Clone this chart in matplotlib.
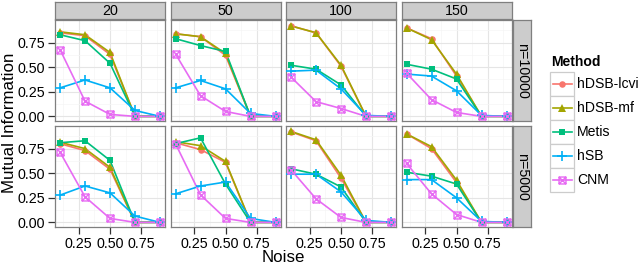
import matplotlib
matplotlib.use("Agg")
import matplotlib.pyplot as plt
from matplotlib.lines import Line2D
from matplotlib.patches import Rectangle
from matplotlib.path import Path

plt.rcParams["font.family"] = ["Liberation Sans", "DejaVu Sans"]

noise = [0.1, 0.3, 0.5, 0.7, 0.9]
ks = ["20", "50", "100", "150"]
sizes = ["n=10000", "n=5000"]
methods = ["hDSB-lcvi", "hDSB-mf", "Metis", "hSB", "CNM"]

# one row per k (20, 50, 100, 150), one value per noise level
lcvi_10000 = [[0.85, 0.82, 0.63, 0.0, 0.0],
              [0.84, 0.81, 0.62, 0.0, 0.0],
              [0.92, 0.85, 0.51, 0.0, 0.0],
              [0.90, 0.79, 0.41, 0.0, 0.0]]
mf_10000 = [[0.86, 0.83, 0.65, 0.0, 0.0],
            [0.84, 0.81, 0.64, 0.0, 0.0],
            [0.92, 0.85, 0.52, 0.0, 0.0],
            [0.90, 0.78, 0.43, 0.0, 0.0]]
metis_10000 = [[0.83, 0.77, 0.54, 0.0, 0.0],
               [0.79, 0.72, 0.66, 0.0, 0.0],
               [0.52, 0.48, 0.32, 0.0, 0.0],
               [0.53, 0.48, 0.38, 0.0, 0.0]]
hsb_10000 = [[0.29, 0.37, 0.29, 0.06, 0.0],
             [0.29, 0.365, 0.28, 0.03, 0.0],
             [0.46, 0.47, 0.28, 0.01, 0.0],
             [0.43, 0.41, 0.26, 0.01, 0.0]]
cnm_10000 = [[0.68, 0.155, 0.02, 0.0, 0.0],
             [0.635, 0.21, 0.05, 0.0, 0.0],
             [0.40, 0.15, 0.08, 0.0, 0.0],
             [0.44, 0.17, 0.04, 0.0, 0.0]]

lcvi_5000 = [[0.80, 0.73, 0.54, 0.0, 0.0],
             [0.81, 0.74, 0.61, 0.0, 0.0],
             [0.92, 0.83, 0.45, 0.0, 0.0],
             [0.90, 0.75, 0.405, 0.0, 0.0]]
mf_5000 = [[0.815, 0.75, 0.56, 0.0, 0.0],
           [0.82, 0.78, 0.62, 0.0, 0.0],
           [0.925, 0.84, 0.48, 0.0, 0.0],
           [0.90, 0.77, 0.43, 0.0, 0.0]]
metis_5000 = [[0.81, 0.83, 0.63, 0.0, 0.0],
              [0.80, 0.86, 0.39, 0.0, 0.0],
              [0.545, 0.49, 0.36, 0.0, 0.0],
              [0.51, 0.47, 0.39, 0.0, 0.0]]
hsb_5000 = [[0.277, 0.37, 0.30, 0.064, 0.0],
            [0.29, 0.37, 0.41, 0.04, 0.0],
            [0.49, 0.49, 0.31, 0.02, 0.0],
            [0.435, 0.435, 0.25, 0.01, 0.0]]
cnm_5000 = [[0.715, 0.26, 0.04, 0.0, 0.0],
            [0.80, 0.28, 0.04, 0.0, 0.0],
            [0.535, 0.24, 0.05, 0.0, 0.0],
            [0.60, 0.29, 0.08, 0.0, 0.0]]

series = {
    "n=10000": [lcvi_10000, mf_10000, metis_10000, hsb_10000, cnm_10000],
    "n=5000": [lcvi_5000, mf_5000, metis_5000, hsb_5000, cnm_5000],
}

colors = ["#F8766D", "#A3A500", "#00BF7D", "#00B0F6", "#E76BF3"]

# square with a cross inside (ggplot shape 7)
sq_cross = Path(
    [(-1, -1), (1, -1), (1, 1), (-1, 1), (-1, -1), (-1, -1), (1, 1), (-1, 1), (1, -1)],
    [Path.MOVETO, Path.LINETO, Path.LINETO, Path.LINETO, Path.CLOSEPOLY,
     Path.MOVETO, Path.LINETO, Path.MOVETO, Path.LINETO],
)
styles = [
    dict(marker="o", ms=4.7, mew=0.0),
    dict(marker="^", ms=5.2, mew=0.0),
    dict(marker="s", ms=4.5, mew=0.0),
    dict(marker="+", ms=7.0, mew=1.2),
    dict(marker=sq_cross, ms=5.0, mew=1.0, mfc="none"),
]

W, H = 640, 265
fig = plt.figure(figsize=(W / 100, H / 100), dpi=100)


def box(left, top, w, h):
    return [left / W, 1 - (top + h) / H, w / W, h / H]


col_left = [55, 170.5, 286, 401.5]
row_top = [20, 126]
pw, ph = 110, 101
border = "#7F7F7F"
fs = 10.3
legend_fs = 10.1

for r, size in enumerate(sizes):
    for c, k in enumerate(ks):
        ax = fig.add_axes(box(col_left[c], row_top[r], pw, ph))
        ax.set_xlim(0.06, 0.94)
        ax.set_ylim(-0.047, 0.98)
        ax.set_xticks([0.25, 0.5, 0.75])
        ax.set_yticks([0.0, 0.25, 0.5, 0.75])
        ax.set_xticks([0.125, 0.375, 0.625, 0.875], minor=True)
        ax.set_yticks([0.125, 0.375, 0.625, 0.875], minor=True)
        ax.grid(which="major", color="#E5E5E5", lw=0.8)
        ax.grid(which="minor", color="#F5F5F5", lw=0.5)
        ax.set_axisbelow(True)
        for sp in ax.spines.values():
            sp.set_color(border)
            sp.set_linewidth(0.9)
        ax.tick_params(which="minor", length=0)
        ax.tick_params(which="major", length=5, width=0.9, color="#333333",
                       labelsize=fs, labelcolor="black", pad=2)
        if c == 0:
            ax.set_yticklabels(["0.00", "0.25", "0.50", "0.75"])
        else:
            ax.tick_params(axis="y", labelleft=False, length=0)
        if r == 1:
            ax.set_xticklabels(["0.25", "0.50", "0.75"])
        else:
            ax.tick_params(axis="x", labelbottom=False, length=0)

        for m in range(len(methods)):
            ax.plot(noise, series[size][m][c], color=colors[m], lw=1.2, zorder=2)
        for m in range(len(methods)):
            st = dict(styles[m])
            mfc = st.pop("mfc", colors[m])
            ax.plot(noise, series[size][m][c], ls="none", color=colors[m],
                    mfc=mfc, mec=colors[m], zorder=3, **st)

        if r == 0:
            sax = fig.add_axes(box(col_left[c], 1.5, pw, 17.5))
            sax.set_facecolor("#CCCCCC")
            sax.set_xticks([])
            sax.set_yticks([])
            for sp in sax.spines.values():
                sp.set_color(border)
                sp.set_linewidth(0.9)
            sax.text(0.5, 0.45, k, ha="center", va="center", fontsize=fs,
                     transform=sax.transAxes)

    rax = fig.add_axes(box(512.5, row_top[r], 18.5, ph))
    rax.set_facecolor("#CCCCCC")
    rax.set_xticks([])
    rax.set_yticks([])
    for sp in rax.spines.values():
        sp.set_color(border)
        sp.set_linewidth(0.9)
    rax.text(0.5, 0.5, size, ha="center", va="center", rotation=-90,
             fontsize=fs, transform=rax.transAxes)

fig.text(10 / W, 1 - 123 / H, "Mutual Information", rotation=90,
         ha="center", va="center", fontsize=12.2)
fig.text(283 / W, 1 - 257 / H, "Noise", ha="center", va="center", fontsize=12.2)

# legend drawn as ggplot-style keys
fig.text(551.5 / W, 1 - 62 / H, "Method", ha="left", va="center",
         fontsize=legend_fs, fontweight="bold")
for m, name in enumerate(methods):
    cy = 83.5 + 24 * m
    fig.patches.append(Rectangle((550 / W, 1 - (cy + 12) / H), 24 / W, 24 / H,
                                 transform=fig.transFigure, facecolor="white",
                                 edgecolor="#CCCCCC", lw=0.9))
    st = dict(styles[m])
    mfc = st.pop("mfc", colors[m])
    fig.lines.append(Line2D([553 / W, 571.5 / W], [1 - cy / H, 1 - cy / H],
                            transform=fig.transFigure, color=colors[m], lw=1.2))
    fig.lines.append(Line2D([562.25 / W], [1 - cy / H], transform=fig.transFigure,
                            ls="none", color=colors[m], mfc=mfc, mec=colors[m], **st))
    fig.text(577 / W, 1 - cy / H, name, ha="left", va="center", fontsize=legend_fs)

fig.savefig("out.png", dpi=100)
